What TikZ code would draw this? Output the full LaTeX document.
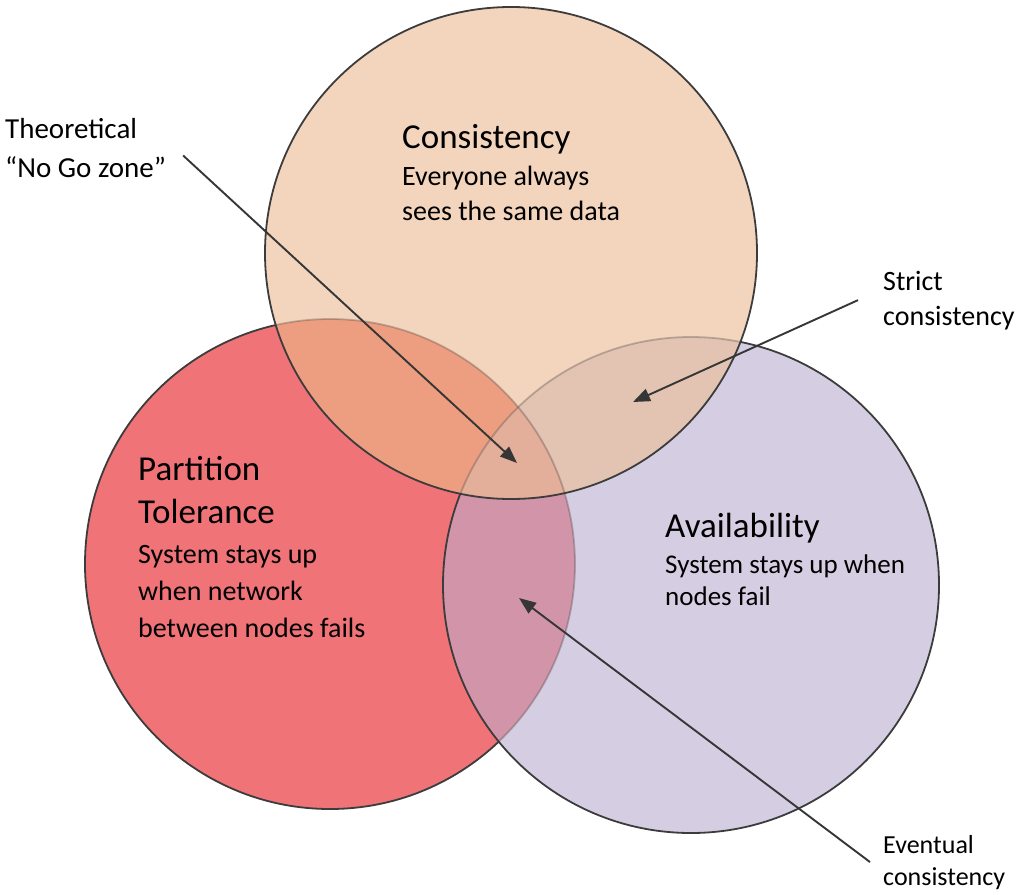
\documentclass[tikz,border=0pt]{standalone}
\usepackage{fontspec}
\setmainfont{Carlito}
\usetikzlibrary{arrows.meta}

\definecolor{consfill}{HTML}{F3D5BE}
\definecolor{partfill}{HTML}{EF7377}
\definecolor{availfill}{HTML}{D5CEE2}
\definecolor{cpfill}{HTML}{EE9E80}
\definecolor{cafill}{HTML}{E3C3B1}
\definecolor{pafill}{HTML}{D294A9}
\definecolor{allfill}{HTML}{E3AE9A}
\definecolor{ringgray}{HTML}{3C3C3C}
\definecolor{arrowgray}{HTML}{363636}

\begin{document}
\begin{tikzpicture}[x=1pt,y=-1pt,
	ring/.style={draw=ringgray,line width=1.8pt},
	faintring/.style={draw=ringgray,draw opacity=0.3,line width=1.8pt},
	pointer/.style={draw=arrowgray,line width=1.9pt,-{Triangle[length=17pt,width=13pt]}},
	title/.style={font=\fontsize{35}{43}\selectfont,anchor=base west,inner sep=0pt,align=left},
	subtitle/.style={font=\fontsize{28}{37}\selectfont,anchor=base west,inner sep=0pt,align=left},
	callout/.style={font=\fontsize{29}{36}\selectfont,anchor=base west,inner sep=0pt,align=left}]
	\useasboundingbox (0,0) rectangle (1032,894);
	\coordinate (P) at (330,564);
	\coordinate (A) at (691,585);
	\coordinate (C) at (511,253);

	% partition tolerance
	\fill[partfill] (P) circle[radius=245];
	\draw[ring] (P) circle[radius=245];

	% availability
	\fill[availfill] (A) circle[radius=248];
	\begin{scope}
		\clip (P) circle[radius=245];
		\fill[pafill] (A) circle[radius=248];
	\end{scope}
	\begin{scope}
		\clip (A) circle[radius=248];
		\draw[faintring] (P) circle[radius=245];
	\end{scope}
	\draw[ring] (A) circle[radius=248];

	% consistency
	\fill[consfill] (C) circle[radius=246];
	\begin{scope}
		\clip (C) circle[radius=246];
		\fill[cpfill] (P) circle[radius=245];
		\fill[cafill] (A) circle[radius=248];
		\begin{scope}
			\clip (P) circle[radius=245];
			\fill[allfill] (A) circle[radius=248];
		\end{scope}
		\draw[faintring] (P) circle[radius=245];
		\draw[faintring] (A) circle[radius=248];
	\end{scope}
	\draw[ring] (C) circle[radius=246];

	% texts (anchored at the baseline of the last line)
	\node[title] (cons) at (402,148) {Consistency};
	\node[subtitle,font=\fontsize{28}{35}\selectfont] (cons-sub) at (402,220) {Everyone always\\sees the same data};
	\node[title] (part) at (138,523) {Partition\\Tolerance};
	\node[subtitle] (part-sub) at (138,637) {System stays up\\when network\\between nodes fails};
	\node[title] (avail) at (665,537) {Availability};
	\node[subtitle,font=\fontsize{27}{32}\selectfont] (avail-sub) at (665,605) {System stays up when\\nodes fail};

	\node[callout,font=\fontsize{29}{39}\selectfont] (nogo) at (5,177) {Theoretical\\“No Go zone”};
	\node[callout,font=\fontsize{28}{35}\selectfont] (strict) at (883,325) {Strict\\consistency};
	\node[callout,font=\fontsize{26}{32}\selectfont] (eventual) at (883,885) {Eventual\\consistency};

	% pointers
	\coordinate (nogo-tip) at (517,463);
	\coordinate (strict-tip) at (633,402);
	\coordinate (eventual-tip) at (519,598);
	\draw[pointer] ([shift={(17,8)}]nogo.east) -- (nogo-tip);
	\draw[pointer] ([xshift=-25pt]strict.west) -- (strict-tip);
	\draw[pointer] ([xshift=-13pt]eventual.west) -- (eventual-tip);
\end{tikzpicture}
\end{document}
